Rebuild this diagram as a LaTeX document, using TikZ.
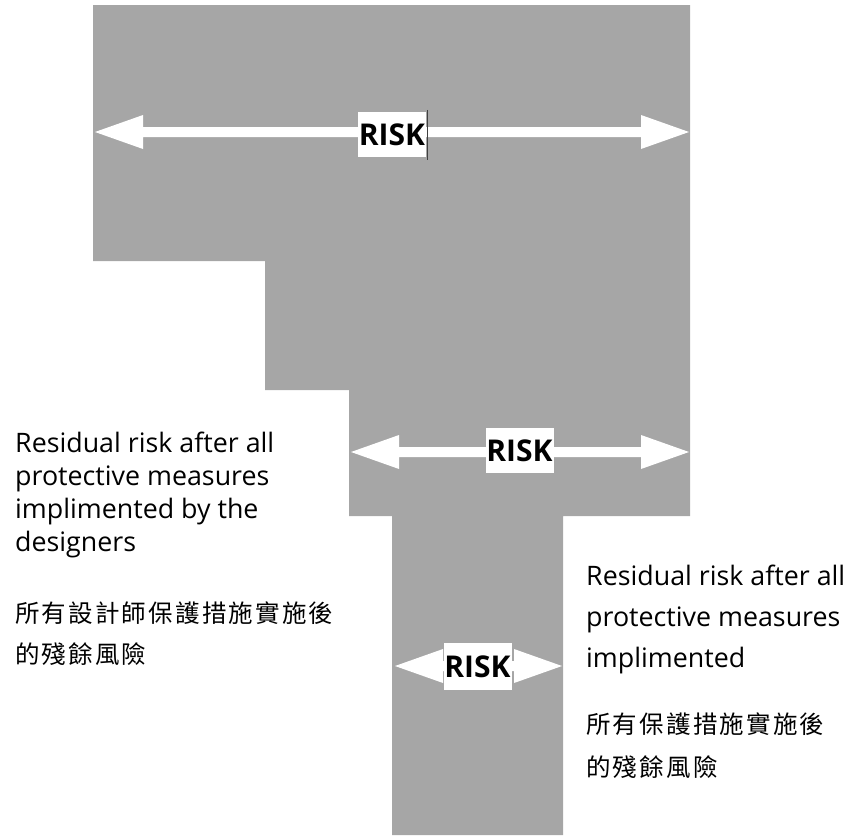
\documentclass[tikz,border=0pt]{standalone}
\usepackage{fontspec}
\setmainfont{Open Sans}
\newfontfamily\cjkfont[LetterSpace=9]{Noto Sans CJK TC}
\definecolor{riskgray}{HTML}{A6A6A6}
\newcommand\entext{\fontsize{26.8}{30}\selectfont}
\newcommand\zhtext{\cjkfont\fontsize{24.5}{30}\selectfont}
\newcommand\risktext{\bfseries\fontsize{30}{34}\selectfont}
% white double-headed arrow: left tip x, right tip x, centre y
\newcommand\riskarrow[3]{%
  \fill[arrowfill] ({#1},{#3}) -- ({#1+48},{#3-17}) -- ({#1+48},{#3-5})
    -- ({#2-48},{#3-5}) -- ({#2-48},{#3-17}) -- ({#2},{#3})
    -- ({#2-48},{#3+17}) -- ({#2-48},{#3+5}) -- ({#1+48},{#3+5})
    -- ({#1+48},{#3+17}) -- cycle;}
\begin{document}
\begin{tikzpicture}[x=1pt,y=-1pt,
  arrowfill/.style={fill=white},
  riskbox/.style={fill=white, inner sep=0pt, minimum width=68pt,
    minimum height=45pt, font=\risktext},
  entxt/.style={anchor=base west, inner sep=0pt, font=\entext},
  zhtxt/.style={anchor=base west, inner sep=0pt, font=\zhtext}]
\useasboundingbox (0,0) rectangle (851,835);

% stepped risk area
\fill[riskgray] (93,5) -- (690,5) -- (690,516) -- (563,516) -- (563,835)
  -- (392,835) -- (392,516) -- (349,516) -- (349,390) -- (265,390)
  -- (265,261) -- (93,261) -- cycle;

% risk arrows with their labels
\riskarrow{95}{689}{132}
\node[riskbox] (risk1) at (392,134.5) {RISK};
\draw[black!75, line width=1.3pt] (risk1.north east) ++(1,-2) -- ++(0,50);

\riskarrow{351}{689}{452}
\node[riskbox] (risk2) at (519.5,450.5) {RISK};

\riskarrow{395}{562}{666}
\node[riskbox, minimum height=47pt] (risk3) at (477.5,666.5) {RISK};

% residual risk after the designers' measures
\node[entxt] (d1) at (15,452) {Residual risk after all};
\node[entxt] (d2) at (15,485) {protective measures};
\node[entxt] (d3) at (15,518) {implimented by the};
\node[entxt] (d4) at (15,551) {designers};
\node[zhtxt] (d5) at (15,622) {所有設計師保護措施實施後};
\node[zhtxt] (d6) at (15,663) {的殘餘風險};

% residual risk after all measures
\node[entxt] (a1) at (586,585) {Residual risk after all};
\node[entxt] (a2) at (586,626) {protective measures};
\node[entxt] (a3) at (586,667) {implimented};
\node[zhtxt] (a4) at (586,733) {所有保護措施實施後};
\node[zhtxt] (a5) at (586,776) {的殘餘風險};
\end{tikzpicture}
\end{document}
